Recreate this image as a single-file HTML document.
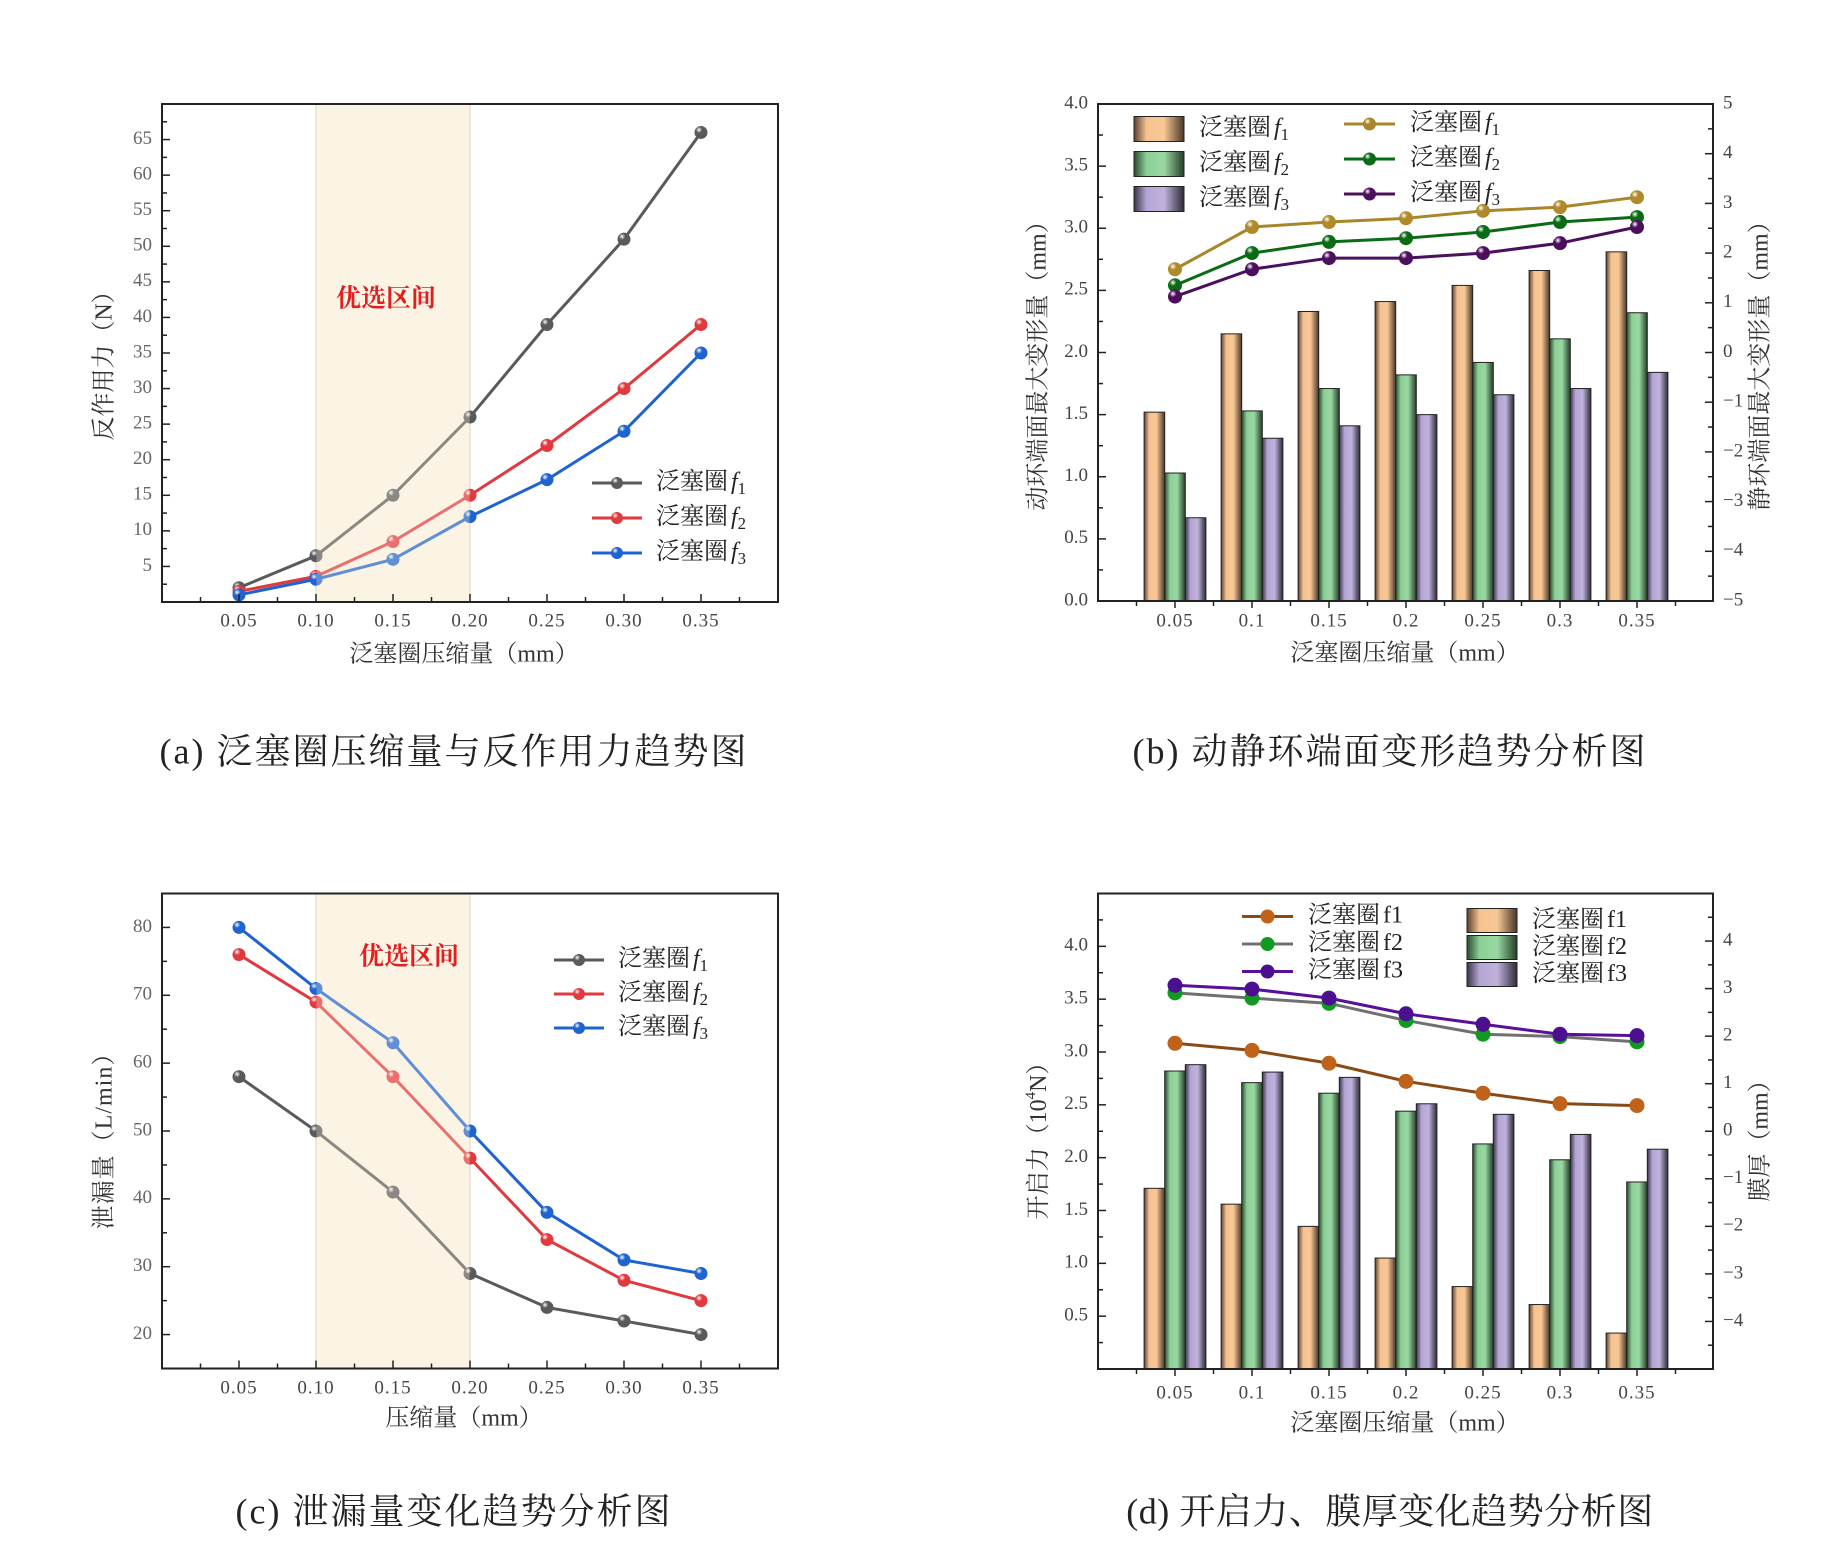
<!DOCTYPE html>
<html><head><meta charset="utf-8">
<style>
html,body{margin:0;padding:0;background:#fff;}
svg{display:block;}
text{font-family:"Liberation Serif","Noto Serif CJK SC",serif;}
</style></head>
<body>
<svg id="root" width="1838" height="1555" viewBox="0 0 1838 1555" xmlns="http://www.w3.org/2000/svg">
<defs>
  <linearGradient id="gOrange" x1="0" x2="1" y1="0" y2="0">
    <stop offset="0" stop-color="#5a4030"/><stop offset="0.25" stop-color="#f5c290"/><stop offset="0.6" stop-color="#f8c895"/><stop offset="1" stop-color="#4a3628"/>
  </linearGradient>
  <linearGradient id="gGreen" x1="0" x2="1" y1="0" y2="0">
    <stop offset="0" stop-color="#2a4a2e"/><stop offset="0.25" stop-color="#8ccf96"/><stop offset="0.6" stop-color="#9ad8a3"/><stop offset="1" stop-color="#233d26"/>
  </linearGradient>
  <linearGradient id="gPurple" x1="0" x2="1" y1="0" y2="0">
    <stop offset="0" stop-color="#3a3448"/><stop offset="0.25" stop-color="#b4a5d4"/><stop offset="0.6" stop-color="#c0b2dc"/><stop offset="1" stop-color="#2e2a38"/>
  </linearGradient>
</defs>
</svg>
<script>
// ---------- chart (a) data ----------
const catsA = [0.05,0.10,0.15,0.20,0.25,0.30,0.35];
const xTickLabelsA = ["0.05","0.10","0.15","0.20","0.25","0.30","0.35"];
const yTicksA = [5,10,15,20,25,30,35,40,45,50,55,60,65];
const a_f1 = [2,6.5,15,26,39,51,66];
const a_f2 = [1.5,3.6,8.5,15,22,30,39];
const a_f3 = [1,3.2,6,12,17.2,24,35];
// ---------- chart (b) data ----------
const catsB = ["0.05","0.1","0.15","0.2","0.25","0.3","0.35"];
const yTicksBL = ["0.0","0.5","1.0","1.5","2.0","2.5","3.0","3.5","4.0"];
const yTicksBR = [-5,-4,-3,-2,-1,0,1,2,3,4,5];
const b_bar1 = [1.52,2.15,2.33,2.41,2.54,2.66,2.81];
const b_bar2 = [1.03,1.53,1.71,1.82,1.92,2.11,2.32];
const b_bar3 = [0.67,1.31,1.41,1.50,1.66,1.71,1.84];
const b_line1 = [1.675,2.525,2.625,2.7,2.85,2.925,3.125];
const b_line2 = [1.35,2.0,2.225,2.3,2.425,2.625,2.725];
const b_line3 = [1.125,1.675,1.9,1.9,2.0,2.2,2.525];
// ---------- chart (c) data ----------
const catsC = [0.05,0.10,0.15,0.20,0.25,0.30,0.35];
const yTicksC = [20,30,40,50,60,70,80];
const c_f1 = [58,50,41,29,24,22,20];
const c_f2 = [76,69,58,46,34,28,25];
const c_f3 = [80,71,63,50,38,31,29];
// ---------- chart (d) data ----------
const catsD = ["0.05","0.1","0.15","0.2","0.25","0.3","0.35"];
const yTicksDL = ["0.5","1.0","1.5","2.0","2.5","3.0","3.5","4.0"];
const yTicksDR = [-4,-3,-2,-1,0,1,2,3,4];
const d_bar1 = [1.71,1.56,1.35,1.05,0.78,0.61,0.34];
const d_bar2 = [2.82,2.71,2.61,2.44,2.13,1.98,1.77];
const d_bar3 = [2.88,2.81,2.76,2.51,2.41,2.22,2.08];
const d_line1 = [1.85,1.70,1.43,1.05,0.80,0.58,0.54];
const d_line2 = [2.91,2.80,2.69,2.33,2.04,1.99,1.88];
const d_line3 = [3.07,2.99,2.80,2.47,2.25,2.04,2.01];

const NS="http://www.w3.org/2000/svg";
const root=document.getElementById('root');
function mk(tag,attrs,parent){const e=document.createElementNS(NS,tag);for(const k in attrs)e.setAttribute(k,attrs[k]);(parent||root).appendChild(e);return e;}
function txt(s,attrs,parent){const e=mk('text',attrs,parent);e.textContent=s;return e;}
function fLabel(parent,x,y,n,size,italic){
  const t=mk('text',{x:x,y:y,'font-size':size,fill:'#222','dominant-baseline':'middle'},parent);
  const a=document.createElementNS(NS,'tspan');a.textContent='泛塞圈';t.appendChild(a);
  const b=document.createElementNS(NS,'tspan');b.textContent='f';b.setAttribute('font-style',italic?'italic':'normal');b.setAttribute('dx','3');t.appendChild(b);
  const c=document.createElementNS(NS,'tspan');c.textContent=String(n);
  if(italic){c.setAttribute('font-size',size*0.7);c.setAttribute('dy','7');}
  t.appendChild(c);return t;
}
let gid=0;
function ball(parent,x,y,color,r){
  const id='rb'+(gid++);
  const g=mk('radialGradient',{id:id,cx:'0.35',cy:'0.3',r:'0.7'},root.querySelector('defs'));
  mk('stop',{offset:'0','stop-color':'#ffffff'},g);
  mk('stop',{offset:'0.35','stop-color':color},g);
  mk('stop',{offset:'1','stop-color':color,'stop-opacity':'1'},g);
  return mk('circle',{cx:x,cy:y,r:r||6.5,fill:'url(#'+id+')'},parent);
}
function plainDot(parent,x,y,color,r){return mk('circle',{cx:x,cy:y,r:r||7,fill:color},parent);}

// ================= Chart A =================
(function(){
  const L=162,R=778,T=104,B=602;
  const xs=v=>L+(v-0)/(0.40)*(R-L);
  const ys=v=>B-(v/70)*(B-T);
  const g=mk('g',{});
  
  const shade=mk('rect',{x:xs(0.10),y:T,width:xs(0.20)-xs(0.10),height:B-T,fill:'#fbf4e4',stroke:'#ddd6c4','stroke-width':1},g);
  
  const series=[[a_f1,'#5a5a5a','f1'],[a_f2,'#e0393e','f2'],[a_f3,'#1f63d0','f3']];
  series.forEach(s=>{
    const pts=s[0].map((v,i)=>xs(catsA[i])+','+ys(v)).join(' ');
    const pl=mk('polyline',{points:pts,fill:'none',stroke:s[1],'stroke-width':3},g);
    
    s[0].forEach((v,i)=>{const c=ball(g,xs(catsA[i]),ys(v),s[1]);
      });
  });
  const ov=mk('rect',{x:xs(0.10)+0.5,y:T,width:xs(0.20)-xs(0.10)-1,height:B-T,fill:'#fbf4e4','fill-opacity':0.3},g);
  
  const fr=mk('rect',{x:L,y:T,width:R-L,height:B-T,fill:'none',stroke:'#222','stroke-width':2},g);
  
  for(let v=0.025;v<0.40;v+=0.025){const major=Math.abs((v/0.05)-Math.round(v/0.05))<1e-6;
    mk('line',{x1:xs(v),x2:xs(v),y1:B,y2:B-(major?8:5),stroke:'#222','stroke-width':1.5},g);}
  catsA.forEach((c,i)=>{const t=txt(xTickLabelsA[i],{x:xs(c),y:622,'font-size':19,'text-anchor':'middle','dominant-baseline':'middle',fill:'#444','letter-spacing':'1'},g);
    });
  for(let v=2.5;v<70;v+=2.5){const major=v%5===0;mk('line',{x1:L,x2:L+(major?8:5),y1:ys(v),y2:ys(v),stroke:'#222','stroke-width':1.5},g);}
  yTicksA.forEach(v=>{const t=txt(String(v),{x:152,y:ys(v),'font-size':19,'text-anchor':'end','dominant-baseline':'middle',fill:'#666'},g);
    });
  const zt=txt('优选区间',{x:386,y:301,'font-size':25,'font-weight':'bold','text-anchor':'middle','dominant-baseline':'middle',fill:'#e02020'},g);
  
  const xt=txt('泛塞圈压缩量（mm）',{x:464,y:656,'font-size':24,'text-anchor':'middle','dominant-baseline':'middle',fill:'#333'},g);
  
  const yt=txt('反作用力（N）',{x:0,y:0,'font-size':24,'text-anchor':'middle','dominant-baseline':'middle',fill:'#333',transform:'translate(106,360) rotate(-90)'},g);
  
  series.forEach((s,i)=>{const y=483+i*35;
    const lg=mk('g',{},g);
    mk('line',{x1:592,x2:642,y1:y,y2:y,stroke:s[1],'stroke-width':3},lg);ball(lg,617,y,s[1],6);
    fLabel(lg,656,y,i+1,24,true);});
  const cap=txt('(a) 泛塞圈压缩量与反作用力趋势图',{x:454,y:755,'font-size':36,'text-anchor':'middle','dominant-baseline':'middle',fill:'#222','letter-spacing':'2'},g);
  
})();

// ================= Chart C =================
(function(){
  const L=162,R=778,T=893.5,B=1368.5;
  const xs=v=>L+(v/0.40)*(R-L);
  const ys=v=>B-((v-15)/70)*(B-T);
  const g=mk('g',{});
  
  const shade=mk('rect',{x:xs(0.10),y:T,width:xs(0.20)-xs(0.10),height:B-T,fill:'#fbf4e4',stroke:'#ddd6c4','stroke-width':1},g);
  
  const series=[[c_f1,'#5a5a5a','f1'],[c_f2,'#e0393e','f2'],[c_f3,'#1f63d0','f3']];
  series.forEach(s=>{
    const pts=s[0].map((v,i)=>xs(catsC[i])+','+ys(v)).join(' ');
    const pl=mk('polyline',{points:pts,fill:'none',stroke:s[1],'stroke-width':3},g);
    
    s[0].forEach((v,i)=>{const c=ball(g,xs(catsC[i]),ys(v),s[1]);
      });
  });
  const ov=mk('rect',{x:xs(0.10)+0.5,y:T,width:xs(0.20)-xs(0.10)-1,height:B-T,fill:'#fbf4e4','fill-opacity':0.3},g);
  
  const fr=mk('rect',{x:L,y:T,width:R-L,height:B-T,fill:'none',stroke:'#222','stroke-width':2},g);
  
  for(let v=0.025;v<0.40;v+=0.025){const major=Math.abs((v/0.05)-Math.round(v/0.05))<1e-6;
    mk('line',{x1:xs(v),x2:xs(v),y1:B,y2:B-(major?8:5),stroke:'#222','stroke-width':1.5},g);}
  catsC.forEach((c,i)=>{const t=txt(xTickLabelsA[i],{x:xs(c),y:1389,'font-size':19,'text-anchor':'middle','dominant-baseline':'middle',fill:'#444','letter-spacing':'1'},g);
    });
  for(let v=20;v<85;v+=5){const major=v%10===0;mk('line',{x1:L,x2:L+(major?8:5),y1:ys(v),y2:ys(v),stroke:'#222','stroke-width':1.5},g);}
  yTicksC.forEach(v=>{const t=txt(String(v),{x:152,y:ys(v),'font-size':19,'text-anchor':'end','dominant-baseline':'middle',fill:'#666'},g);
    });
  const zt=txt('优选区间',{x:409,y:959,'font-size':25,'font-weight':'bold','text-anchor':'middle','dominant-baseline':'middle',fill:'#e02020'},g);
  
  const xt=txt('压缩量（mm）',{x:464,y:1420,'font-size':24,'text-anchor':'middle','dominant-baseline':'middle',fill:'#333'},g);
  
  const yt=txt('泄漏量（L/min）',{x:0,y:0,'font-size':24,'text-anchor':'middle','dominant-baseline':'middle',fill:'#333',transform:'translate(106,1135) rotate(-90)','letter-spacing':'1'},g);
  
  series.forEach((s,i)=>{const y=960+i*34;
    const lg=mk('g',{},g);
    mk('line',{x1:554,x2:604,y1:y,y2:y,stroke:s[1],'stroke-width':3},lg);ball(lg,579,y,s[1],6);
    fLabel(lg,618,y,i+1,24,true);});
  const cap=txt('(c) 泄漏量变化趋势分析图',{x:454,y:1515,'font-size':36,'text-anchor':'middle','dominant-baseline':'middle',fill:'#222','letter-spacing':'2'},g);
  
})();

// ================= Bar+line helper for B and D =================
function barChart(cfg){
  const {L,R,T,B,lmin,lmax,rmin,rmax,cats,bars,lines,name}=cfg;
  const step=77, x0=cfg.x0, bw=20.6;
  const xc=i=>x0+i*step;
  const yl=v=>B-(v-lmin)/(lmax-lmin)*(B-T);
  const yr=v=>B-(v-rmin)/(rmax-rmin)*(B-T);
  const g=mk('g',{});
  
  const fills=['url(#gOrange)','url(#gGreen)','url(#gPurple)'];
  bars.forEach((arr,k)=>{arr.forEach((v,i)=>{
    const r=mk('rect',{x:xc(i)+(k-1)*bw-bw/2,y:yl(v),width:bw,height:B-yl(v),fill:fills[k],stroke:'#222','stroke-width':1},g);
    });});
  lines.forEach((ln,k)=>{
    const pts=ln.data.map((v,i)=>xc(i)+','+yr(v)).join(' ');
    const pl=mk('polyline',{points:pts,fill:'none',stroke:ln.color,'stroke-width':3},g);
    
    ln.data.forEach((v,i)=>{const c=ln.plain?plainDot(g,xc(i),yr(v),ln.marker,7.5):ball(g,xc(i),yr(v),ln.marker,7);
      });
  });
  const fr=mk('rect',{x:L,y:T,width:R-L,height:B-T,fill:'none',stroke:'#222','stroke-width':2},g);
  
  for(let i=-0.5;i<=6.5;i+=0.5){const major=Number.isInteger(i);
    mk('line',{x1:xc(i),x2:xc(i),y1:B,y2:B+(major?7:5),stroke:'#222','stroke-width':1.5},g);}
  cats.forEach((c,i)=>{const t=txt(c,{x:xc(i),y:cfg.xLabY,'font-size':19,'text-anchor':'middle','dominant-baseline':'middle',fill:'#444','letter-spacing':'1'},g);
    });
  for(let v=lmin;v<=lmax+1e-6;v+=0.25){const major=Math.abs(v*2-Math.round(v*2))<1e-6;
    mk('line',{x1:L,x2:L+(major?8:5),y1:yl(v),y2:yl(v),stroke:'#222','stroke-width':1.5},g);}
  cfg.lTicks.forEach(s=>{const t=txt(s,{x:L-10,y:yl(parseFloat(s)),'font-size':19,'text-anchor':'end','dominant-baseline':'middle',fill:'#444'},g);
    });
  for(let v=rmin;v<=rmax+1e-6;v+=0.5){const major=Number.isInteger(v);
    mk('line',{x1:R,x2:R-(major?8:5),y1:yr(v),y2:yr(v),stroke:'#222','stroke-width':1.5},g);}
  cfg.rTicks.forEach(v=>{const t=txt(String(v).replace('-','−'),{x:R+10,y:yr(v),'font-size':19,'text-anchor':'start','dominant-baseline':'middle',fill:'#444'},g);
    });
  return g;
}

// ================= Chart B =================
(function(){
  const g=barChart({name:'chart-b',L:1098,R:1713,T:104,B:601,lmin:0,lmax:4,rmin:-5,rmax:5,x0:1175,
    cats:catsB,bars:[b_bar1,b_bar2,b_bar3],xLabY:622,lTicks:yTicksBL,rTicks:yTicksBR,
    lines:[{data:b_line1,color:'#a8862a',marker:'#b08a2a'},{data:b_line2,color:'#0b6b14',marker:'#0b6b14'},{data:b_line3,color:'#4b0f5e',marker:'#4b0f5e'}]});
  const fills=['url(#gOrange)','url(#gGreen)','url(#gPurple)'];
  const lc=['#a8862a','#0b6b14','#4b0f5e'];
  for(let i=0;i<3;i++){
    const lg=mk('g',{},g);
    mk('rect',{x:1134,y:116.5+i*35,width:50,height:25,fill:fills[i],stroke:'#222','stroke-width':1},lg);
    fLabel(lg,1199,129+i*35,i+1,24,true);
    const lg2=mk('g',{},g);
    mk('line',{x1:1344,x2:1395,y1:124+i*35,y2:124+i*35,stroke:lc[i],'stroke-width':3},lg2);
    ball(lg2,1369.5,124+i*35,lc[i],6.5);
    fLabel(lg2,1410,124+i*35,i+1,24,true);
  }
  const xt=txt('泛塞圈压缩量（mm）',{x:1405,y:655,'font-size':24,'text-anchor':'middle','dominant-baseline':'middle',fill:'#333'},g);
  
  const yt=txt('动环端面最大变形量（mm）',{x:0,y:0,'font-size':24,'text-anchor':'middle','dominant-baseline':'middle',fill:'#333',transform:'translate(1040,360) rotate(-90)'},g);
  
  const yt2=txt('静环端面最大变形量（mm）',{x:0,y:0,'font-size':24,'text-anchor':'middle','dominant-baseline':'middle',fill:'#333',transform:'translate(1762,360) rotate(-90)'},g);
  
  const cap=txt('(b) 动静环端面变形趋势分析图',{x:1390,y:755,'font-size':36,'text-anchor':'middle','dominant-baseline':'middle',fill:'#222','letter-spacing':'2'},g);
  
})();

// ================= Chart D =================
(function(){
  const g=barChart({name:'chart-d',L:1098,R:1713,T:893.5,B:1369,lmin:0,lmax:4.5,rmin:-5,rmax:5,x0:1175,
    cats:catsD,bars:[d_bar1,d_bar2,d_bar3],xLabY:1394,lTicks:yTicksDL,rTicks:yTicksDR,
    lines:[{data:d_line1,color:'#8a4a14',marker:'#c0621a',plain:true},{data:d_line2,color:'#707070',marker:'#109a20',plain:true},{data:d_line3,color:'#5a0f9a',marker:'#4a1090',plain:true}]});
  const fills=['url(#gOrange)','url(#gGreen)','url(#gPurple)'];
  const lc=['#8a4a14','#707070','#5a0f9a'];const mc=['#c0621a','#109a20','#4a1090'];
  for(let i=0;i<3;i++){
    const lg=mk('g',{},g);
    const y=916.5+i*27.5;
    mk('line',{x1:1242,x2:1293,y1:y,y2:y,stroke:lc[i],'stroke-width':3},lg);
    plainDot(lg,1267.5,y,mc[i],7);
    fLabel(lg,1308,y,i+1,24,false);
    const lg2=mk('g',{},g);
    mk('rect',{x:1467,y:908.5+i*27,width:50,height:24,fill:fills[i],stroke:'#222','stroke-width':1},lg2);
    fLabel(lg2,1532,921+i*27,i+1,24,false);
  }
  const xt=txt('泛塞圈压缩量（mm）',{x:1405,y:1425,'font-size':24,'text-anchor':'middle','dominant-baseline':'middle',fill:'#333'},g);
  
  const yt=mk('text',{x:0,y:0,'font-size':24,'text-anchor':'middle','dominant-baseline':'middle',fill:'#333',transform:'translate(1040,1135) rotate(-90)'},g);
  
  const t1=document.createElementNS(NS,'tspan');t1.textContent='开启力（10';yt.appendChild(t1);
  const t2=document.createElementNS(NS,'tspan');t2.textContent='4';t2.setAttribute('font-size','15');t2.setAttribute('dy','-8');yt.appendChild(t2);
  const t3=document.createElementNS(NS,'tspan');t3.textContent='N）';t3.setAttribute('dy','8');yt.appendChild(t3);
  const yt2=txt('膜厚（mm）',{x:0,y:0,'font-size':24,'text-anchor':'middle','dominant-baseline':'middle',fill:'#333',transform:'translate(1762,1135) rotate(-90)'},g);
  
  const cap=txt('(d) 开启力、膜厚变化趋势分析图',{x:1390,y:1515,'font-size':36,'text-anchor':'middle','dominant-baseline':'middle',fill:'#222','letter-spacing':'0.5'},g);
  
})();
</script>
</body></html>
